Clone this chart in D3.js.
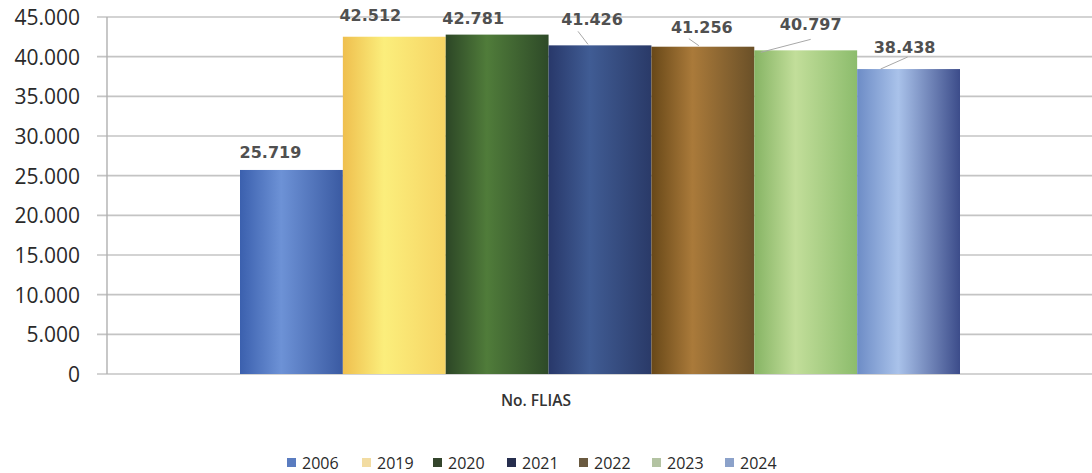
<!DOCTYPE html>
<html><head><meta charset="utf-8">
<script src="https://cdn.jsdelivr.net/npm/d3@7"></script>
<style>body{margin:0;background:#fff}svg{display:block}</style>
</head><body>
<svg id="c" width="1092" height="473"></svg>
<script>
const categories = ["No. FLIAS"];
const years = ["2006","2019","2020","2021","2022","2023","2024"];
const values = [25719, 42512, 42781, 41426, 41256, 40797, 38438];
const valueLabels = ["25.719","42.512","42.781","41.426","41.256","40.797","38.438"];
const yTicks = [0,5000,10000,15000,20000,25000,30000,35000,40000,45000];
const yTickLabels = ["0","5.000","10.000","15.000","20.000","25.000","30.000","35.000","40.000","45.000"];

// styling (not data)
const barGrad = [
  ["#3b60ae","#6d92d6","#3a5aa2"],
  ["#efbf4e","#fbee7c","#f6d464"],
  ["#2c4626","#507c3a","#2e4a28"],
  ["#28386a","#405c94","#2a3a68"],
  ["#684818","#aa7a3a","#6a5028"],
  ["#86b464","#c2de9a","#8cbc6c"],
  ["#6d8cc6","#a9c2ea","#3c4c8a"]
];
const legendColors = ["#5a7cc0","#f2dca2","#34452c","#262e4e","#6a5a40","#b3c3a2","#8ca2ca"];
const labelShift = [[-21,-18],[-24,-22],[-24,-17],[-8,-26],[-1,-20],[5,-26],[-4,-22]];
const leaders = [null,null,null,[[-22,-14],[-12,-1]],[[-14,-8],[-4,-1]],[[-45,2],[5,-11]],[[-1,-12],[-28,0]]];

const svg = d3.select("#c");
const plotL = 107, plotR = 1092, plotT = 17, plotB = 374;
const y = d3.scaleLinear().domain([0,45000]).range([plotB, plotT]);
const x0 = d3.scaleBand().domain(categories).range([240, 960]).padding(0);
const x1 = d3.scaleBand().domain(years).range([0, x0.bandwidth()]).padding(0);

const defs = svg.append("defs");
years.forEach((yr,i)=>{
  const g = defs.append("linearGradient").attr("id","g"+i).attr("x1","0").attr("x2","1").attr("y1","0").attr("y2","0");
  g.append("stop").attr("offset","0").attr("stop-color",barGrad[i][0]);
  g.append("stop").attr("offset","0.4").attr("stop-color",barGrad[i][1]);
  g.append("stop").attr("offset","1").attr("stop-color",barGrad[i][2]);
});

// gridlines
svg.append("g").selectAll("line").data(yTicks).join("line")
  .attr("x1", plotL-10).attr("x2", plotR)
  .attr("y1", d=>y(d)).attr("y2", d=>y(d))
  .attr("stroke","#c4c4c4").attr("stroke-width",1.6);
// y axis line
svg.append("line").attr("x1",plotL).attr("x2",plotL).attr("y1",plotT).attr("y2",plotB)
  .attr("stroke","#b0b0b0").attr("stroke-width",1.4);

// tick labels
svg.append("g").selectAll("text").data(yTicks).join("text")
  .attr("x", 80).attr("y", d=>y(d)+8)
  .attr("text-anchor","end")
  .attr("font-family","'Open Sans', sans-serif").attr("font-weight",500)
  .attr("font-size",21).attr("fill","#2a2a2a")
  .text((d,i)=>yTickLabels[i]);

// bars
const gBars = svg.append("g").attr("transform",`translate(${x0(categories[0])},0)`);
gBars.selectAll("rect").data(values).join("rect")
  .attr("x",(d,i)=>x1(years[i])).attr("width",x1.bandwidth())
  .attr("y",d=>y(d)).attr("height",d=>plotB - y(d))
  .attr("fill",(d,i)=>`url(#g${i})`);

// leader lines
values.forEach((v,i)=>{
  if(!leaders[i]) return;
  const cx = x0(categories[0]) + x1(years[i]) + x1.bandwidth()/2;
  const ty = y(v);
  svg.append("line")
    .attr("x1", cx+leaders[i][0][0]).attr("y1", ty+leaders[i][0][1])
    .attr("x2", cx+leaders[i][1][0]).attr("y2", ty+leaders[i][1][1])
    .attr("stroke","#a8a8a8").attr("stroke-width",1);
});

// value labels
svg.append("g").selectAll("text").data(values).join("text")
  .attr("x",(d,i)=>x0(categories[0]) + x1(years[i]) + x1.bandwidth()/2 + labelShift[i][0])
  .attr("y",(d,i)=>y(d) + labelShift[i][1] + 6)
  .attr("text-anchor","middle")
  .attr("font-family","'DejaVu Sans', sans-serif").attr("font-weight","bold")
  .attr("font-size",16).attr("fill","#505050")
  .text((d,i)=>valueLabels[i]);

// category label
svg.append("text").attr("x", x0(categories[0]) + x0.bandwidth()/2 - 64).attr("y", 406)
  .attr("text-anchor","middle")
  .attr("font-family","'Open Sans', sans-serif").attr("font-weight",600)
  .attr("font-size",15.5).attr("fill","#333")
  .text(categories[0]);

// legend
const legX = [287, 362, 433, 507, 579, 652, 725];
const leg = svg.append("g");
years.forEach((yr,i)=>{
  leg.append("rect").attr("x",legX[i]).attr("y",458).attr("width",9).attr("height",9).attr("fill",legendColors[i]);
  leg.append("text").attr("x",legX[i]+15).attr("y",468.5)
    .attr("font-family","'Open Sans', sans-serif").attr("font-weight",500)
    .attr("font-size",16).attr("fill","#2a2a2a").text(yr);
});
</script>
</body></html>
